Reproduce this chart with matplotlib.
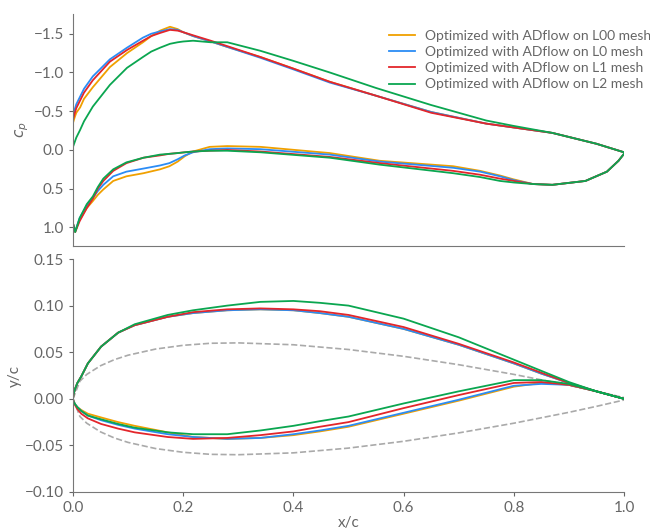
import matplotlib
matplotlib.use('Agg')
import matplotlib.pyplot as plt
import numpy as np

# pressure distribution, upper surface
x_cp_up = [0.0, 0.003, 0.006, 0.013, 0.02, 0.036, 0.067, 0.098, 0.127, 0.142, 0.158, 0.176, 0.19,
           0.2, 0.218, 0.25, 0.28, 0.34, 0.4, 0.466, 0.55, 0.65, 0.75, 0.8, 0.87, 0.95, 1.0]
cp_up_L00 = [-0.35, -0.42, -0.48, -0.55, -0.66, -0.81, -1.07, -1.25, -1.39, -1.47, -1.54, -1.59, -1.56,
             -1.52, -1.47, -1.40, -1.33, -1.20, -1.05, -0.88, -0.70, -0.49, -0.34, -0.29, -0.22, -0.08, 0.03]
cp_up_L0 = [-0.43, -0.52, -0.59, -0.69, -0.79, -0.95, -1.17, -1.32, -1.45, -1.50, -1.53, -1.56, -1.55,
            -1.52, -1.47, -1.40, -1.33, -1.19, -1.04, -0.87, -0.70, -0.49, -0.34, -0.29, -0.22, -0.08, 0.03]
cp_up_L1 = [-0.39, -0.47, -0.54, -0.64, -0.74, -0.90, -1.14, -1.29, -1.41, -1.47, -1.51, -1.55, -1.54,
            -1.52, -1.48, -1.41, -1.34, -1.20, -1.05, -0.88, -0.70, -0.48, -0.34, -0.29, -0.22, -0.08, 0.03]
cp_up_L2 = [-0.04, -0.10, -0.16, -0.26, -0.37, -0.56, -0.84, -1.06, -1.20, -1.27, -1.32, -1.37, -1.39,
            -1.40, -1.41, -1.39, -1.39, -1.28, -1.15, -1.00, -0.80, -0.58, -0.38, -0.31, -0.22, -0.08, 0.03]

# pressure distribution, lower surface
x_cp_lo = [0.0, 0.004, 0.012, 0.025, 0.036, 0.045, 0.055, 0.073, 0.097, 0.128, 0.158, 0.175, 0.19, 0.203,
           0.218, 0.248, 0.28, 0.34, 0.466, 0.557, 0.69, 0.739, 0.775, 0.8, 0.835, 0.87, 0.93, 0.969,
           0.99, 1.0]
cp_lo_L00 = [0.95, 1.05, 0.90, 0.75, 0.66, 0.58, 0.51, 0.40, 0.34, 0.30, 0.25, 0.21, 0.15, 0.08,
             0.02, -0.04, -0.05, -0.04, 0.04, 0.14, 0.21, 0.27, 0.33, 0.38, 0.44, 0.45, 0.40, 0.28,
             0.14, 0.05]
cp_lo_L0 = [0.95, 1.05, 0.88, 0.72, 0.62, 0.53, 0.45, 0.34, 0.28, 0.24, 0.20, 0.17, 0.12, 0.07,
            0.03, -0.01, -0.02, -0.01, 0.06, 0.15, 0.23, 0.28, 0.34, 0.39, 0.44, 0.45, 0.40, 0.28,
            0.14, 0.05]
cp_lo_L1 = [0.95, 1.06, 0.92, 0.75, 0.63, 0.50, 0.40, 0.27, 0.17, 0.10, 0.07, 0.05, 0.04, 0.03,
            0.02, 0.01, 0.00, 0.02, 0.09, 0.17, 0.27, 0.32, 0.37, 0.40, 0.44, 0.45, 0.40, 0.28,
            0.14, 0.05]
cp_lo_L2 = [0.95, 1.06, 0.88, 0.70, 0.60, 0.48, 0.37, 0.25, 0.16, 0.10, 0.06, 0.05, 0.04, 0.03,
            0.02, 0.01, 0.01, 0.03, 0.10, 0.19, 0.30, 0.35, 0.40, 0.42, 0.44, 0.45, 0.40, 0.28,
            0.14, 0.05]

# airfoil shapes
x_geo = [0.0, 0.001, 0.004, 0.008, 0.015, 0.027, 0.051, 0.082, 0.112, 0.172, 0.218, 0.28, 0.34,
         0.4, 0.448, 0.5, 0.6, 0.7, 0.8, 0.85, 0.9, 0.95, 1.0]
yu_L00 = [0.0, 0.005, 0.011, 0.017, 0.024, 0.038, 0.056, 0.071, 0.079, 0.088, 0.092, 0.095, 0.096,
          0.095, 0.092, 0.088, 0.075, 0.058, 0.038, 0.027, 0.017, 0.008, 0.0]
yu_L0 = [0.0, 0.005, 0.011, 0.017, 0.024, 0.038, 0.056, 0.071, 0.079, 0.088, 0.092, 0.095, 0.096,
         0.095, 0.092, 0.088, 0.075, 0.058, 0.038, 0.027, 0.017, 0.008, 0.0]
yu_L1 = [0.0, 0.005, 0.011, 0.017, 0.024, 0.038, 0.056, 0.071, 0.079, 0.088, 0.093, 0.096, 0.097,
         0.096, 0.094, 0.090, 0.077, 0.059, 0.039, 0.028, 0.017, 0.008, 0.0]
yu_L2 = [0.0, 0.005, 0.011, 0.017, 0.024, 0.038, 0.056, 0.071, 0.080, 0.090, 0.095, 0.100, 0.104,
         0.105, 0.103, 0.100, 0.086, 0.066, 0.042, 0.030, 0.018, 0.008, 0.0]
yl_L00 = [0.0, -0.003, -0.006, -0.009, -0.012, -0.016, -0.020, -0.025, -0.029, -0.036, -0.041, -0.043,
          -0.042, -0.039, -0.035, -0.030, -0.016, -0.002, 0.013, 0.017, 0.015, 0.008, 0.0]
yl_L0 = [0.0, -0.003, -0.006, -0.009, -0.013, -0.018, -0.023, -0.028, -0.032, -0.038, -0.041, -0.043,
         -0.042, -0.038, -0.034, -0.029, -0.015, -0.001, 0.014, 0.016, 0.015, 0.008, 0.0]
yl_L1 = [0.0, -0.003, -0.007, -0.011, -0.016, -0.021, -0.027, -0.032, -0.036, -0.041, -0.043, -0.042,
         -0.039, -0.035, -0.030, -0.025, -0.010, 0.004, 0.017, 0.018, 0.015, 0.008, 0.0]
yl_L2 = [0.0, -0.003, -0.006, -0.009, -0.013, -0.018, -0.022, -0.027, -0.031, -0.036, -0.038, -0.038,
         -0.034, -0.029, -0.024, -0.019, -0.005, 0.008, 0.020, 0.020, 0.016, 0.008, 0.0]

# baseline NACA 0012 (half thickness)
x_base = [0.0, 0.0125, 0.025, 0.05, 0.075, 0.1, 0.15, 0.2, 0.25, 0.3, 0.4, 0.5, 0.6, 0.7, 0.8,
          0.9, 0.95, 1.0]
y_base = [0.0, 0.0189, 0.0262, 0.0355, 0.0420, 0.0468, 0.0534, 0.0574, 0.0596, 0.0600, 0.0580,
          0.0529, 0.0456, 0.0366, 0.0262, 0.0145, 0.0081, 0.0013]

labels = ['Optimized with ADflow on L00 mesh', 'Optimized with ADflow on L0 mesh',
          'Optimized with ADflow on L1 mesh', 'Optimized with ADflow on L2 mesh']
colors = ['#F0A000', '#2B8CF5', '#E3262B', '#0AA650']

plt.rcParams['font.family'] = ['Lato', 'DejaVu Sans']
plt.rcParams['font.size'] = 11
grey = '#666666'
plt.rcParams['text.color'] = grey
plt.rcParams['axes.labelcolor'] = grey
plt.rcParams['xtick.color'] = grey
plt.rcParams['ytick.color'] = grey
plt.rcParams['axes.edgecolor'] = '#777777'

fig = plt.figure(figsize=(6.5, 5.3), dpi=100)
ax1 = fig.add_axes([0.1123, 0.5358, 0.8477, 0.4378])
ax2 = fig.add_axes([0.1123, 0.0717, 0.8477, 0.4396])

cp_up = [cp_up_L00, cp_up_L0, cp_up_L1, cp_up_L2]
cp_lo = [cp_lo_L00, cp_lo_L0, cp_lo_L1, cp_lo_L2]
yu = [yu_L00, yu_L0, yu_L1, yu_L2]
yl = [yl_L00, yl_L0, yl_L1, yl_L2]

for i in range(4):
    xs = list(x_cp_up[::-1]) + list(x_cp_lo)
    cs = list(cp_up[i][::-1]) + list(cp_lo[i])
    ax1.plot(xs, cs, color=colors[i], lw=1.3, label=labels[i])
    xg = list(x_geo[::-1]) + list(x_geo)
    yg = list(yu[i][::-1]) + list(yl[i])
    ax2.plot(xg, yg, color=colors[i], lw=1.3)

ax2.plot(x_base, y_base, color='#aaaaaa', ls='--', lw=1.2, zorder=0)
ax2.plot(x_base, -np.array(y_base), color='#aaaaaa', ls='--', lw=1.2, zorder=0)

for ax in (ax1, ax2):
    ax.spines['top'].set_visible(False)
    ax.spines['right'].set_visible(False)
    ax.set_xlim(0, 1.0)
    ax.tick_params(length=3, width=0.8)

ax1.set_ylim(1.24, -1.755)
ax1.set_yticks([-1.5, -1.0, -0.5, 0.0, 0.5, 1.0])
ax1.set_xticks([])
ax1.set_ylabel('$c_p$', labelpad=2)
ax1.legend(loc='upper left', bbox_to_anchor=(0.55, 0.985), frameon=False,
           handlelength=1.9, handletextpad=0.7, labelspacing=0.3, fontsize=10)

ax2.set_ylim(-0.1, 0.15)
ax2.set_yticks([-0.10, -0.05, 0.0, 0.05, 0.10, 0.15])
ax2.set_xticks([0.0, 0.2, 0.4, 0.6, 0.8, 1.0])
ax2.set_ylabel('y/c', labelpad=2)
ax2.set_xlabel('x/c', labelpad=1)

fig.savefig('out.png', dpi=100)
